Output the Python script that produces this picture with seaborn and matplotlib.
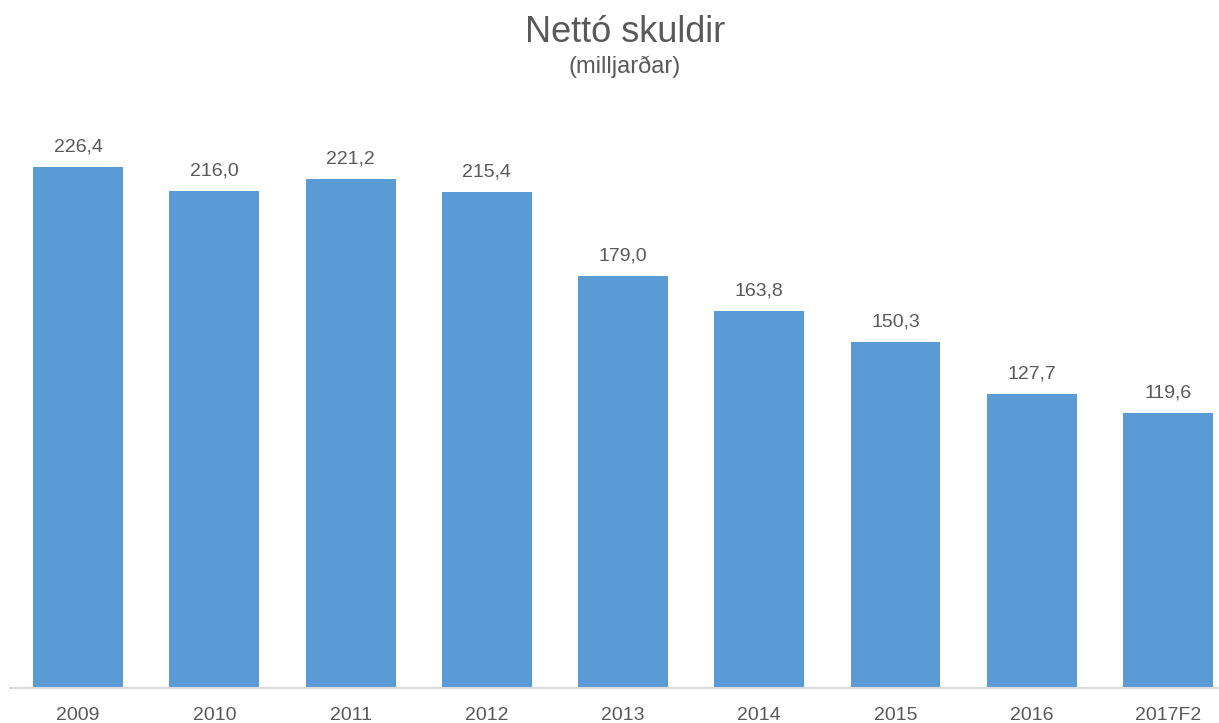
import matplotlib
matplotlib.use("Agg")
import matplotlib.pyplot as plt
import seaborn as sns
import pandas as pd

# gögn
years = ["2009", "2010", "2011", "2012", "2013", "2014", "2015", "2016", "2017F2"]
values = [226.4, 216.0, 221.2, 215.4, 179.0, 163.8, 150.3, 127.7, 119.6]

df = pd.DataFrame({"ar": years, "skuldir": values})

sns.set_theme(style="white")
plt.rcParams["font.family"] = ["Liberation Sans", "DejaVu Sans"]
txt = "#595959"

fig = plt.figure(figsize=(12.19, 7.23), dpi=100)
ax = fig.add_axes([10 / 1219, (723 - 688) / 723, 1209 / 1219, (688 - 100) / 723])

sns.barplot(data=df, x="ar", y="skuldir", color="#5B9BD5", saturation=1,
            width=0.66, linewidth=0, ax=ax)

ax.set_xlim(-0.5, 8.375)
ax.set_ylim(0, 588 / 2.301)

for i, v in enumerate(values):
    ax.text(i, v + 5, f"{v:.1f}".replace(".", ","), ha="center", va="bottom",
            fontsize=14, color=txt)

for s in ["top", "right", "left"]:
    ax.spines[s].set_visible(False)
ax.spines["bottom"].set_color("#d9d9d9")
ax.spines["bottom"].set_linewidth(1.5)
ax.set_yticks([])
ax.set_xlabel("")
ax.set_ylabel("")
ax.tick_params(axis="x", length=0, labelsize=14, labelcolor=txt, pad=14)

fig.text(625 / 1219, 1 - 32 / 723, "Nettó skuldir", ha="center", va="center",
         fontsize=26, color=txt)
fig.text(625 / 1219, 1 - 67 / 723, "(milljarðar)", ha="center", va="center",
         fontsize=17, color=txt)

fig.savefig("out.png", dpi=100)
